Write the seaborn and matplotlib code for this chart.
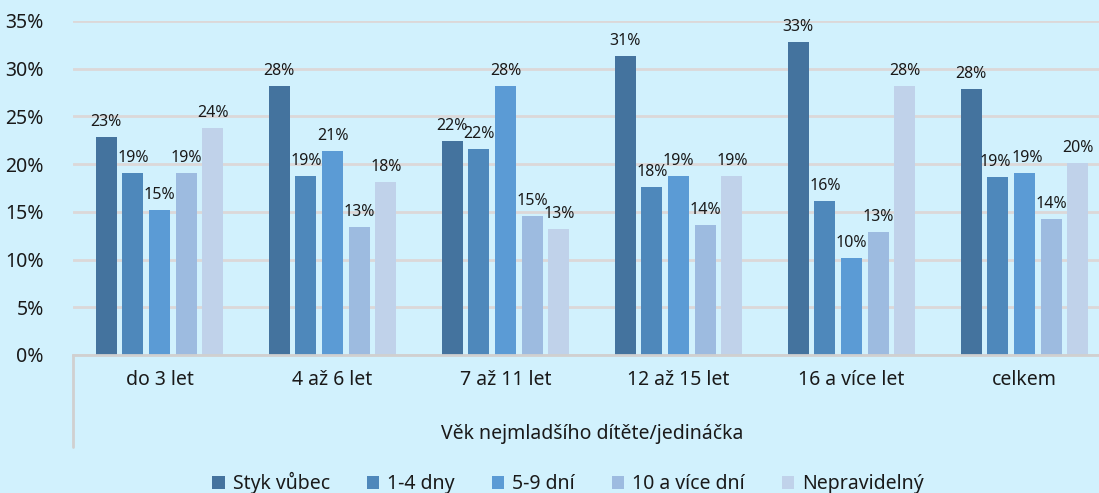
import pandas as pd
import matplotlib
matplotlib.use("Agg")
import matplotlib.pyplot as plt
import seaborn as sns
from matplotlib.lines import Line2D
from matplotlib.ticker import FuncFormatter

# ==========================
# DATA
# ==========================

categories = ["do 3 let", "4 až 6 let", "7 až 11 let", "12 až 15 let", "16 a více let", "celkem"]
series = ["Styk vůbec", "1-4 dny", "5-9 dní", "10 a více dní", "Nepravidelný"]

styk_vubec = [22.8, 28.2, 22.4, 31.3, 32.8, 27.9]
dny_1_4 = [19.1, 18.8, 21.6, 17.6, 16.1, 18.7]
dni_5_9 = [15.2, 21.4, 28.2, 18.8, 10.2, 19.1]
dni_10_vice = [19.1, 13.4, 14.6, 13.6, 12.9, 14.3]
nepravidelny = [23.8, 18.1, 13.2, 18.8, 28.2, 20.1]

colors = ["#44739e", "#4e88bb", "#5b9bd5", "#9dbbe0", "#c0d2ea"]

values = [styk_vubec, dny_1_4, dni_5_9, dni_10_vice, nepravidelny]
df = pd.DataFrame(
    [(c, s, v[i]) for s, v in zip(series, values) for i, c in enumerate(categories)],
    columns=["kategorie", "serie", "hodnota"]
)

# ==========================
# PLOT
# ==========================

bg = "#d1f1fd"
sns.set_style("white")
plt.rcParams["font.family"] = ["Noto Sans", "DejaVu Sans"]

fig = plt.figure(figsize=(10.99, 4.93), dpi=100, facecolor=bg)
ax = fig.add_axes([73 / 1099, 1 - 355 / 493, 1038 / 1099, 334 / 493])
ax.set_facecolor(bg)

sns.barplot(
    data=df,
    x="kategorie",
    y="hodnota",
    hue="serie",
    order=categories,
    hue_order=series,
    palette=colors,
    width=0.77,
    gap=0.21,
    saturation=1,
    errorbar=None,
    linewidth=0,
    ax=ax
)

# data labels
label_sets = []
for cont in ax.containers:
    label_sets.append(
        ax.bar_label(cont, fmt="%.0f%%", padding=5, fontsize=11.5, color="#1a1a1a")
    )

# the two 19% labels in "celkem" touch each other, nudge them apart a bit
label_sets[1][5].xyann = (-2, 5)
label_sets[2][5].xyann = (2, 5)

ax.set_ylim(0, 35)
ax.set_xlim(-0.5, 5.5)
ax.set_yticks(range(0, 36, 5))
ax.yaxis.set_major_formatter(FuncFormatter(lambda v, p: f"{v:.0f}%"))
ax.grid(axis="y", color="#dcd8d8", linewidth=2)
ax.set_axisbelow(True)

for side in ["top", "right", "left"]:
    ax.spines[side].set_visible(False)
ax.spines["bottom"].set_color("#d0d0d0")
ax.spines["bottom"].set_linewidth(2)

ax.tick_params(axis="y", length=0, pad=21, labelsize=14, labelcolor="#1a1a1a")
ax.tick_params(axis="x", length=0, pad=11, labelsize=14, labelcolor="#1a1a1a")

ax.add_line(Line2D([0, 0], [0, -92 / 334], transform=ax.transAxes,
                   color="#d0d0d0", linewidth=2, clip_on=False))

ax.set_xlabel("Věk nejmladšího dítěte/jedináčka", fontsize=14, color="#1a1a1a", labelpad=24)
ax.set_ylabel("")

handles, labels = ax.get_legend_handles_labels()
ax.get_legend().remove()
fig.legend(
    handles,
    labels,
    loc="center",
    bbox_to_anchor=(568 / 1099, 1 - 483 / 493),
    ncol=5,
    frameon=False,
    fontsize=14,
    handlelength=0.65,
    handleheight=0.65,
    handletextpad=0.4,
    columnspacing=1.9,
    labelcolor="#1a1a1a"
)

fig.savefig("out.png", dpi=100, facecolor=bg)
